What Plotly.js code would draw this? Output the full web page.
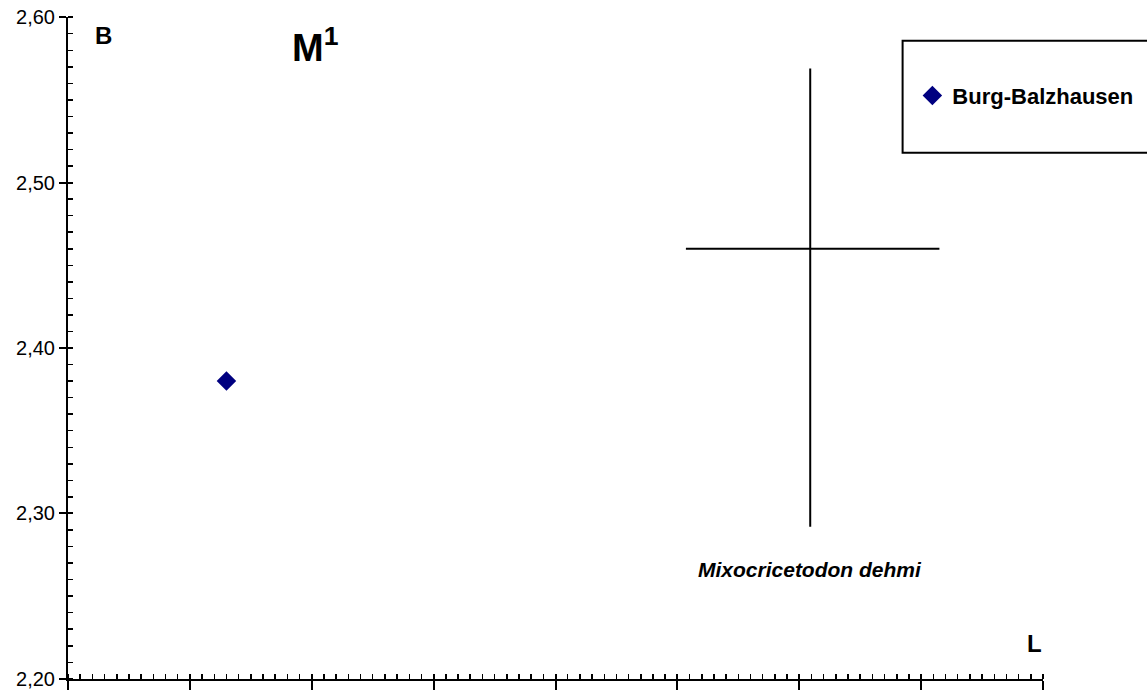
<!DOCTYPE html>
<html>
<head>
<meta charset="utf-8">
<script src="https://cdn.plot.ly/plotly-3.0.1.min.js"></script>
<style>
  html, body { margin: 0; padding: 0; background: #fff; }
  #chart { width: 1147px; height: 691px; }
</style>
</head>
<body>
<div id="chart"></div>
<script>
// Burg-Balzhausen M1 measurement (length L, width B)
const burgL = [2.53];
const burgB = [2.38];

// Mixocricetodon dehmi range: min, mean, max
const dehmiL = [2.907, 3.009, 3.115];
const dehmiB = [2.292, 2.46, 2.569];

const yTicks = [2.2, 2.3, 2.4, 2.5, 2.6];

const font = "Liberation Sans, Arial, sans-serif";

const traces = [
  {
    x: [dehmiL[0], dehmiL[2]],
    y: [dehmiB[1], dehmiB[1]],
    mode: "lines",
    line: { color: "#000", width: 2 },
    showlegend: false,
    hoverinfo: "skip"
  },
  {
    x: [dehmiL[1], dehmiL[1]],
    y: [dehmiB[0], dehmiB[2]],
    mode: "lines",
    line: { color: "#000", width: 2 },
    showlegend: false,
    hoverinfo: "skip"
  },
  {
    x: burgL,
    y: burgB,
    name: "Burg-Balzhausen",
    mode: "markers",
    type: "scatter",
    marker: { symbol: "diamond", size: 15, color: "#000080" }
  },
  // empty trace so the overlay axes (inner half of major ticks) get drawn
  { x: [], y: [], xaxis: "x2", yaxis: "y2", showlegend: false, hoverinfo: "skip" }
];

const axisCommon = {
  showgrid: false,
  zeroline: false,
  linecolor: "#000",
  tickcolor: "#000",
  automargin: false,
  fixedrange: true
};

const layout = {
  width: 1147,
  height: 691,
  paper_bgcolor: "#fff",
  plot_bgcolor: "#fff",
  margin: { t: 17, r: 104, b: 12, l: 68, autoexpand: false },
  separators: ",.",
  font: { family: font, color: "#000" },
  showlegend: true,
  legend: {
    x: 0.866, y: 0.881, xanchor: "left", yanchor: "middle",
    bgcolor: "rgba(0,0,0,0)",
    borderwidth: 0,
    itemwidth: 30,
    font: { family: font, size: 22, weight: "bold", color: "#000" }
  },
  xaxis: {
    ...axisCommon,
    range: [2.4, 3.2],
    tick0: 2.4, dtick: 0.1,
    showline: true, linewidth: 2,
    ticks: "outside", ticklen: 9, tickwidth: 2,
    showticklabels: false,
    minor: { dtick: 0.01, ticks: "inside", ticklen: 5, tickwidth: 1.5, tickcolor: "#000", showgrid: false }
  },
  yaxis: {
    ...axisCommon,
    range: [2.1999, 2.6001],
    tickvals: yTicks,
    tickformat: ".2f",
    ticklabeloverflow: "allow",
    showline: true, linewidth: 2,
    ticks: "outside", ticklen: 7, tickwidth: 2,
    tickfont: { family: font, size: 20, color: "#000" },
    minor: { dtick: 0.01, ticks: "inside", ticklen: 5, tickwidth: 1.5, tickcolor: "#000", showgrid: false }
  },
  xaxis2: {
    ...axisCommon,
    overlaying: "x",
    range: [2.4, 3.2],
    tick0: 2.4, dtick: 0.1,
    showline: false,
    ticks: "inside", ticklen: 5, tickwidth: 2,
    showticklabels: false
  },
  yaxis2: {
    ...axisCommon,
    overlaying: "y",
    range: [2.1999, 2.6001],
    tickvals: yTicks,
    showline: false,
    ticks: "inside", ticklen: 5, tickwidth: 2,
    showticklabels: false
  },
  shapes: [{
    type: "rect", xref: "paper", yref: "paper",
    x0: 0.856, x1: 1.12, y0: 0.795, y1: 0.964,
    line: { color: "#000", width: 2 },
    fillcolor: "rgba(0,0,0,0)"
  }],
  annotations: [
    { text: "B", xref: "paper", yref: "paper", x: 0.026, y: 0.972, xanchor: "left", yanchor: "middle",
      showarrow: false, font: { family: font, size: 24, weight: "bold" } },
    { text: "M<sup>1</sup>", xref: "paper", yref: "paper", x: 0.228, y: 0.958, xanchor: "left", yanchor: "middle",
      showarrow: false, font: { family: font, size: 38, weight: "bold" } },
    { text: "L", xref: "paper", yref: "paper", x: 0.982, y: 0.053, xanchor: "left", yanchor: "middle",
      showarrow: false, font: { family: font, size: 24, weight: "bold" } },
    { text: "<i>Mixocricetodon dehmi</i>", xref: "x", yref: "paper", x: dehmiL[1], y: 0.166, xanchor: "center", yanchor: "middle",
      showarrow: false, font: { family: font, size: 21, weight: "bold" } }
  ]
};

Plotly.newPlot("chart", traces, layout, { displayModeBar: false, staticPlot: true });
</script>
</body>
</html>
